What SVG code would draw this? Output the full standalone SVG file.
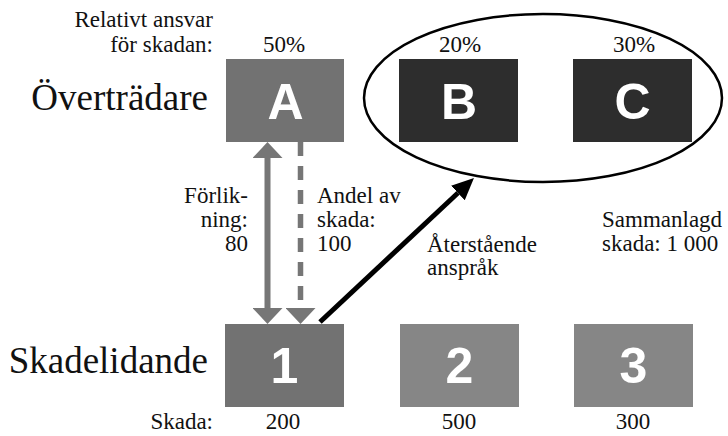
<svg xmlns="http://www.w3.org/2000/svg" width="728" height="436" viewBox="0 0 728 436">
  <style>
    .lbl { font-family: Liberation Serif, serif; font-size: 23px; fill: #111; }
    .big { font-family: Liberation Serif, serif; font-size: 37px; fill: #111; }
    .ltr { font-family: Liberation Sans, sans-serif; font-weight: bold; font-size: 50px; fill: #fff; text-anchor: middle; }
    .mid { text-anchor: middle; }
    .end { text-anchor: end; }
    .gray1 { fill: #727272; }
    .dark { fill: #2d2d2d; }
    .gray2 { fill: #868686; }
  </style>
  <defs>
    <marker id="grayHead" markerUnits="userSpaceOnUse" markerWidth="16" markerHeight="30" viewBox="0 0 16 30" refX="0" refY="15" orient="auto-start-reverse">
      <path d="M0,0 L16,15 L0,30 Z" fill="#767676"/>
    </marker>
    <marker id="blackHead" markerUnits="userSpaceOnUse" markerWidth="22" markerHeight="20" viewBox="0 0 22 20" refX="0" refY="10" orient="auto">
      <path d="M0,0 L22,10 L0,20 Z" fill="#000"/>
    </marker>
  </defs>

  <g id="headers">
    <text class="lbl end" x="213" y="27">Relativt ansvar</text>
    <text class="lbl end" x="213" y="52">för skadan:</text>
    <text class="big end" x="208" y="110">Överträdare</text>
    <text class="big end" x="208" y="373">Skadelidande</text>
    <text class="lbl end" x="213" y="429">Skada:</text>
  </g>

  <g id="group-BC">
    <ellipse cx="543" cy="98" rx="179" ry="84" fill="none" stroke="#000" stroke-width="2.5"/>
  </g>

  <g id="node-A">
    <text class="lbl mid" x="284" y="52">50%</text>
    <rect class="gray1" x="226" y="59" width="118" height="83"/>
    <text class="ltr" x="285.5" y="119">A</text>
  </g>
  <g id="node-B">
    <text class="lbl mid" x="460" y="52">20%</text>
    <rect class="dark" x="399" y="59" width="119" height="83"/>
    <text class="ltr" x="459" y="119">B</text>
  </g>
  <g id="node-C">
    <text class="lbl mid" x="634" y="52">30%</text>
    <rect class="dark" x="573" y="59" width="119" height="83"/>
    <text class="ltr" x="632.5" y="119">C</text>
  </g>

  <g id="node-1">
    <rect class="gray1" x="225" y="324" width="119" height="83"/>
    <text class="ltr" x="284.5" y="383">1</text>
    <text class="lbl mid" x="283" y="429">200</text>
  </g>
  <g id="node-2">
    <rect class="gray2" x="400" y="324" width="119" height="83"/>
    <text class="ltr" x="459.5" y="383">2</text>
    <text class="lbl mid" x="459" y="429">500</text>
  </g>
  <g id="node-3">
    <rect class="gray2" x="574" y="324" width="119" height="83"/>
    <text class="ltr" x="633.5" y="383">3</text>
    <text class="lbl mid" x="633" y="429">300</text>
  </g>

  <g id="connectors">
    <line x1="267.5" y1="158" x2="267.5" y2="308" stroke="#767676" stroke-width="6" marker-start="url(#grayHead)" marker-end="url(#grayHead)"/>
    <line x1="300.5" y1="142" x2="300.5" y2="308" stroke="#767676" stroke-width="5.5" stroke-dasharray="14 10" marker-end="url(#grayHead)"/>
    <line x1="320" y1="322" x2="457.9" y2="193" stroke="#000" stroke-width="5" marker-end="url(#blackHead)"/>
  </g>

  <g id="connector-labels">
    <text class="lbl end" x="248" y="203">Förlik-</text>
    <text class="lbl end" x="248" y="227">ning:</text>
    <text class="lbl end" x="248" y="251">80</text>
    <text class="lbl" x="317" y="203">Andel av</text>
    <text class="lbl" x="317" y="227">skada:</text>
    <text class="lbl" x="317" y="251">100</text>
    <text class="lbl" x="427" y="252">Återstående</text>
    <text class="lbl" x="427" y="275">anspråk</text>
    <text class="lbl" x="602" y="227">Sammanlagd</text>
    <text class="lbl" x="602" y="251">skada: 1 000</text>
  </g>
</svg>
